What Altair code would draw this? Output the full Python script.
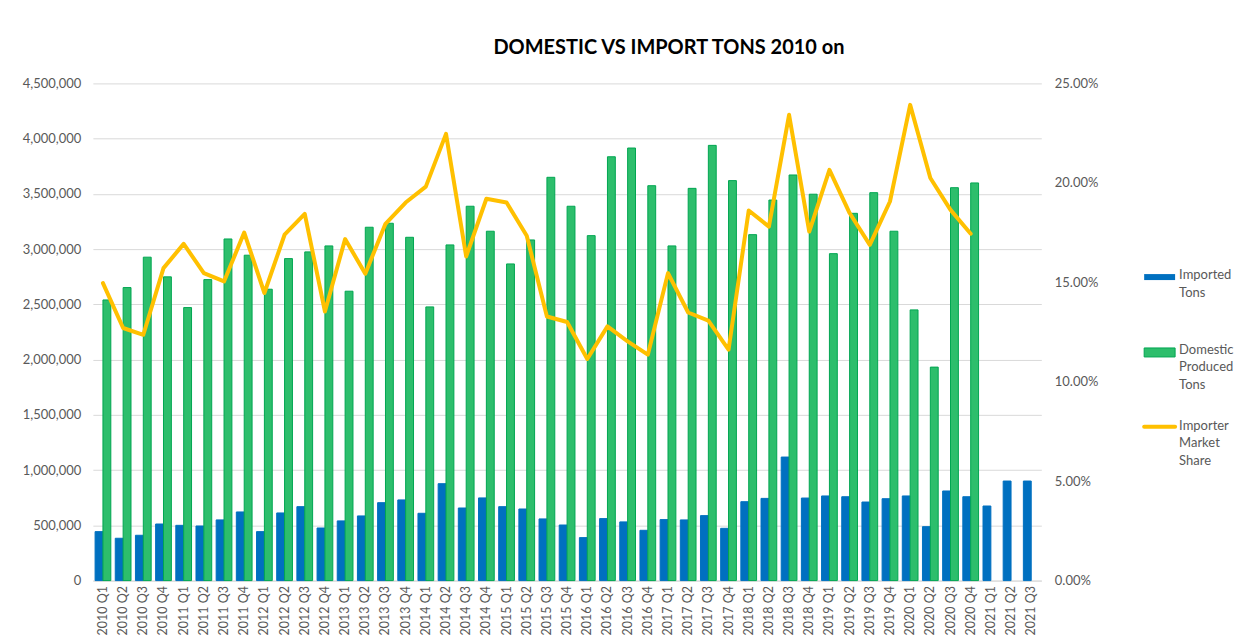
import altair as alt
import pandas as pd

years = ["2010", "2011", "2012", "2013", "2014", "2015",
         "2016", "2017", "2018", "2019", "2020", "2021"]
quarters = ["Q1", "Q2", "Q3", "Q4"]
periods = [f"{y} {q}" for y in years for q in quarters][:47]

imported = [
    443000, 383000, 410000, 512000,
    500000, 494000, 549000, 621000,
    443000, 612000, 669000, 476000,
    540000, 585000, 705000, 730000,
    609000, 877000, 657000, 748000,
    669000, 648000, 558000, 503000,
    389000, 561000, 531000, 455000,
    552000, 549000, 588000, 473000,
    714000, 744000, 1118000, 747000,
    766000, 759000, 711000, 741000,
    766000, 488000, 811000, 759000,
    675000, 901000, 901000,
]

domestic = [
    2540000, 2652000, 2927000, 2749000,
    2471000, 2724000, 3092000, 2945000,
    2637000, 2914000, 2975000, 3029000,
    2619000, 3198000, 3234000, 3107000,
    2477000, 3038000, 3388000, 3162000,
    2866000, 3083000, 3650000, 3388000,
    3122000, 3836000, 3915000, 3574000,
    3029000, 3550000, 3939000, 3620000,
    3131000, 3444000, 3671000, 3497000,
    2959000, 3324000, 3511000, 3162000,
    2450000, 1932000, 3556000, 3599000,
]

share_pct = [
    14.96, 12.70, 12.36, 15.71,
    16.93, 15.46, 15.04, 17.50,
    14.46, 17.39, 18.44, 13.53,
    17.17, 15.43, 17.94, 19.01,
    19.81, 22.46, 16.30, 19.20,
    19.01, 17.34, 13.28, 13.00,
    11.14, 12.78, 12.03, 11.36,
    15.46, 13.48, 13.07, 11.61,
    18.61, 17.80, 23.42, 17.55,
    20.65, 18.48, 16.88, 19.06,
    23.92, 20.24, 18.64, 17.44,
]

series_names = ["Imported Tons", "Domestic Produced Tons"]
tons_ticks = [0, 500000, 1000000, 1500000, 2000000, 2500000,
              3000000, 3500000, 4000000, 4500000]
share_ticks = [0, 0.05, 0.10, 0.15, 0.20, 0.25]

rows = []
for i, p in enumerate(periods):
    rows.append({"period": p, "series": series_names[0], "tons": imported[i]})
    if i < len(domestic):
        rows.append({"period": p, "series": series_names[1], "tons": domestic[i]})
bars_df = pd.DataFrame(rows)
line_df = pd.DataFrame({"period": periods[:len(share_pct)],
                        "share": [s / 100 for s in share_pct]})
one = pd.DataFrame({"k": [0]})

FONT = "Lato"
GRAY = "#595959"
GRID = "#D9D9D9"
BLUE = "#0070C0"
GREEN = "#2DBE6C"
GREEN_EDGE = "#00A651"
GOLD = "#FFC000"

x_enc = alt.X(
    "period:N", sort=periods,
    scale=alt.Scale(paddingInner=0.22, paddingOuter=0.11),
    axis=alt.Axis(title=None, labelAngle=-90, labelFont=FONT, labelFontSize=12.5,
                  labelColor=GRAY, labelPadding=5, ticks=False,
                  domainColor=GRID, labelOverlap=False),
)

bars = alt.Chart(bars_df).mark_bar(strokeWidth=1).encode(
    x=x_enc,
    xOffset=alt.XOffset("series:N", sort=series_names,
                        scale=alt.Scale(domain=series_names, paddingInner=0, paddingOuter=0)),
    y=alt.Y("tons:Q", scale=alt.Scale(domain=[0, 4500000], nice=False),
            axis=alt.Axis(title=None, values=tons_ticks, format=",.0f", grid=True,
                          gridColor=GRID, domain=False, ticks=False, labelPadding=12,
                          labelFont=FONT, labelFontSize=13, labelColor=GRAY)),
    color=alt.Color("series:N", scale=alt.Scale(domain=series_names, range=[BLUE, GREEN]),
                    legend=None),
    stroke=alt.Stroke("series:N", scale=alt.Scale(domain=series_names, range=[BLUE, GREEN_EDGE]),
                      legend=None),
)

line = alt.Chart(line_df).mark_line(color=GOLD, strokeWidth=4, strokeJoin="round",
                                    strokeCap="round").encode(
    x=alt.X("period:N", sort=periods),
    y=alt.Y("share:Q", scale=alt.Scale(domain=[0, 0.25], nice=False),
            axis=alt.Axis(title=None, orient="right", values=share_ticks, format=".2%",
                          grid=False, domain=False, ticks=False, labelPadding=13,
                          labelFont=FONT, labelFontSize=13, labelColor=GRAY)),
)

leg_blue = alt.Chart(one).mark_rect(color=BLUE).encode(
    x=alt.value(1053), x2=alt.value(1084), y=alt.value(191), y2=alt.value(197))
leg_green = alt.Chart(one).mark_rect(fill=GREEN, stroke=GREEN_EDGE, strokeWidth=1).encode(
    x=alt.value(1053), x2=alt.value(1084), y=alt.value(265), y2=alt.value(274))
leg_gold = alt.Chart(one).mark_rule(color=GOLD, strokeWidth=4, strokeCap="round").encode(
    x=alt.value(1053), x2=alt.value(1084), y=alt.value(344))

txt = dict(align="left", baseline="top", font=FONT, fontSize=13, color=GRAY, lineHeight=17.5)
leg_t1 = alt.Chart(one).mark_text(text=["Imported", "Tons"], **txt).encode(
    x=alt.value(1088), y=alt.value(186))
leg_t2 = alt.Chart(one).mark_text(text=["Domestic", "Produced", "Tons"], **txt).encode(
    x=alt.value(1088), y=alt.value(261))
leg_t3 = alt.Chart(one).mark_text(text=["Importer", "Market", "Share"], **txt).encode(
    x=alt.value(1088), y=alt.value(337))

chart = alt.layer(bars, line, leg_blue, leg_green, leg_gold, leg_t1, leg_t2, leg_t3).resolve_scale(
    y="independent"
).properties(
    width=950, height=498,
    title=alt.Title("DOMESTIC VS IMPORT TONS 2010 on", font=FONT, fontSize=20,
                    fontWeight="bold", color="#000000", anchor="middle", dx=102, offset=19),
    autosize=alt.AutoSizeParams(type="none"),
    padding={"left": 85, "top": 75, "right": 200, "bottom": 55},
).configure_view(stroke=None)

chart.save("out.html", embed_options={"renderer": "svg", "actions": False})
